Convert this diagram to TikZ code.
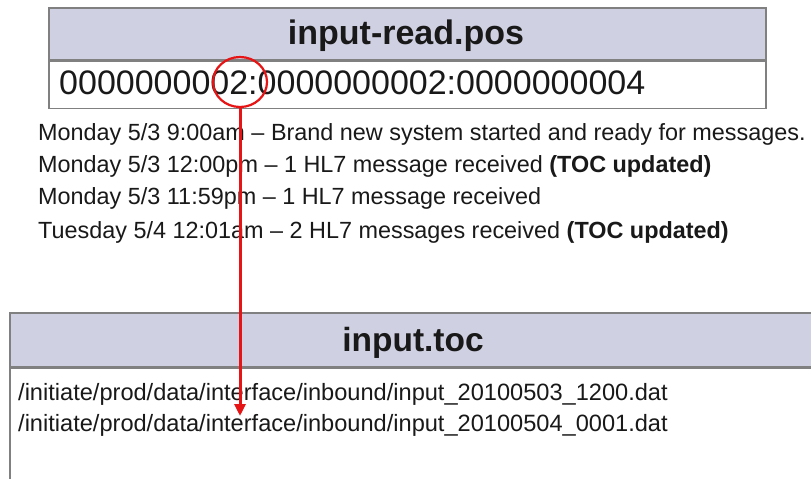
\documentclass[tikz,border=0pt]{standalone}
\usepackage{fontspec}
\setmainfont{Liberation Sans}
\usetikzlibrary{arrows.meta,shapes.geometric}
\definecolor{hdrfill}{RGB}{208,208,227}
\definecolor{boxline}{RGB}{128,128,128}
\definecolor{ink}{RGB}{25,25,25}
\definecolor{mark}{RGB}{230,20,20}
\tikzset{
  x=1pt, y=1pt,
  hdrbox/.style={draw=boxline, line width=1.4pt, fill=hdrfill, inner sep=0pt},
  hdrtext/.style={anchor=base, inner sep=0pt, text=ink, font=\bfseries\fontsize{34}{34}\selectfont},
  bodybox/.style={draw=boxline, line width=1.4pt, fill=white, inner sep=0pt},
  valtext/.style={anchor=base west, inner sep=0pt, text=ink, font=\fontsize{34}{34}\selectfont},
  logline/.style={anchor=base west, inner sep=0pt, text=ink, font=\fontsize{23.4}{23.4}\selectfont},
  pathline/.style={anchor=base west, inner sep=0pt, text=ink, font=\fontsize{23.6}{23.6}\selectfont},
  redmark/.style={draw=mark, line width=2.2pt, ellipse, minimum width=54pt, minimum height=50pt, inner sep=0pt},
  redarrow/.style={draw=mark, line width=3pt, -{Triangle[length=12pt,width=11pt]}}
}
\begin{document}
\begin{tikzpicture}
\useasboundingbox[clip] (0,0) rectangle (811,-479);
\fill[white] (0,0) rectangle (811,-479);

% position file: header and value row
\node[hdrbox, minimum width=717pt, minimum height=52pt] (poshdr) at (407.5,-34) {};
\node[hdrtext] (postitle) at (406,-44) {input-read.pos};
\node[bodybox, minimum width=717pt, minimum height=47pt, anchor=north] (posrow) at (poshdr.south) {};
\node[valtext] (posval) at (59,-94) {0000000002:0000000002:0000000004};

% event log
\node[logline] (ev1) at (38,-140) {Monday 5/3 9:00am – Brand new system started and ready for messages.};
\node[logline] (ev2) at (38,-172) {Monday 5/3 12:00pm – 1 HL7 message received \textbf{(TOC updated)}};
\node[logline] (ev3) at (38,-204) {Monday 5/3 11:59pm – 1 HL7 message received};
\node[logline] (ev4) at (38,-238) {Tuesday 5/4 12:01am – 2 HL7 messages received \textbf{(TOC updated)}};

% table-of-contents file
\node[hdrbox, minimum width=812pt, minimum height=54pt] (tochdr) at (416,-340) {};
\node[hdrtext, font=\bfseries\fontsize{33.5}{33.5}\selectfont] (toctitle) at (413,-351) {input.toc};
\node[bodybox, minimum width=812pt, minimum height=130pt, anchor=north] (tocbody) at (tochdr.south) {};
\node[pathline] (toc1) at (18,-400) {/initiate/prod/data/interface/inbound/input\_20100503\_1200.dat};
\node[pathline] (toc2) at (18,-431) {/initiate/prod/data/interface/inbound/input\_20100504\_0001.dat};

% highlighted field and pointer into the TOC
\node[redmark] (field) at (240,-82) {};
\coordinate (tocentry) at (240,-416);
\draw[redarrow] (field.south) -- (tocentry);
\end{tikzpicture}
\end{document}
